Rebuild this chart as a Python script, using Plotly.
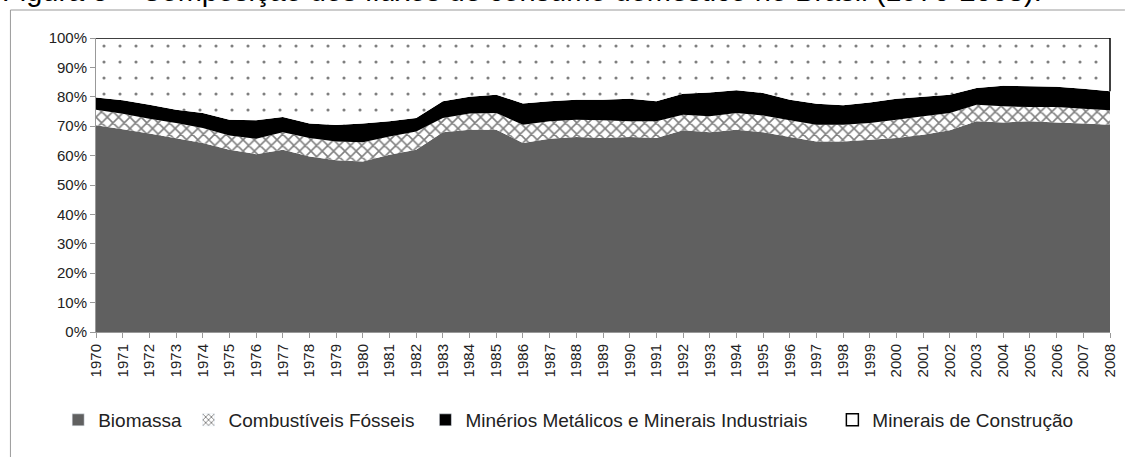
import plotly.graph_objects as go

years = [str(y) for y in range(1970, 2009)]

# cumulative boundaries (percent)
biomassa_top = [70.3, 69.0, 67.5, 65.9, 64.3, 62.0, 60.5, 62.0, 59.7, 58.4,
                58.0, 60.3, 62.0, 67.9, 68.8, 68.8, 64.3, 65.7, 66.3, 66.0,
                66.3, 66.0, 68.6, 67.9, 68.8, 67.9, 66.3, 64.8, 64.8, 65.4,
                66.0, 67.1, 68.6, 71.7, 71.3, 71.7, 71.3, 70.9, 70.5]
fosseis_top = [75.6, 74.2, 72.5, 71.1, 69.4, 66.8, 65.7, 67.9, 66.0, 64.8,
               64.5, 66.5, 68.2, 72.8, 74.3, 74.5, 70.5, 71.7, 72.2, 72.0,
               71.7, 71.7, 73.9, 73.4, 74.5, 73.6, 72.0, 70.5, 70.5, 71.1,
               72.2, 73.4, 74.5, 77.3, 76.8, 76.5, 76.5, 75.9, 75.4]
minerios_top = [79.8, 78.8, 77.3, 75.6, 74.5, 72.2, 72.0, 73.1, 70.9, 70.4,
                70.9, 71.7, 72.8, 78.5, 80.0, 80.7, 77.7, 78.5, 79.0, 79.0,
                79.3, 78.5, 81.0, 81.5, 82.2, 81.3, 79.0, 77.6, 77.1, 78.1,
                79.3, 80.0, 80.7, 83.0, 83.8, 83.6, 83.4, 82.7, 81.9]

biomassa = biomassa_top
fosseis = [round(f - b, 1) for f, b in zip(fosseis_top, biomassa_top)]
minerios = [round(m - f, 1) for m, f in zip(minerios_top, fosseis_top)]
construcao = [round(100 - m, 1) for m in minerios_top]

series_names = ["Biomassa", "Combustíveis Fósseis",
                "Minérios Metálicos e Minerais Industriais", "Minerais de Construção"]

W, H = 1130, 457
L, R, T, B = 96, 15, 38, 125
pw = W - L - R
ph = H - T - B


def px_x(x):
    return (x - L) / pw


def px_y(y):
    return (H - B - y) / ph


wave = dict(shape="x", fgcolor="black", bgcolor="white", size=8, solidity=0.35)
dots = dict(shape=".", fgcolor="black", bgcolor="white", size=16, solidity=0.03)

fig = go.Figure()
fig.add_trace(go.Scatter(
    x=years, y=biomassa, name=series_names[0], stackgroup="one", groupnorm="percent",
    mode="none", fillcolor="#606060", showlegend=False))
fig.add_trace(go.Scatter(
    x=years, y=fosseis, name=series_names[1], stackgroup="one",
    mode="none", fillcolor="white", fillpattern=wave, showlegend=False))
fig.add_trace(go.Scatter(
    x=years, y=minerios, name=series_names[2], stackgroup="one",
    mode="none", fillcolor="black", showlegend=False))
fig.add_trace(go.Scatter(
    x=years, y=construcao, name=series_names[3], stackgroup="one",
    mode="lines", line=dict(color="black", width=1.5), fillcolor="white",
    fillpattern=dots, showlegend=False))

# legend entries (square keys like the reference)
legend_markers = [
    dict(color="#606060"),
    dict(color="white", pattern=dict(shape="x", fgcolor="black", size=5, solidity=0.4)),
    dict(color="black"),
    dict(color="white", line=dict(color="black", width=1.5)),
]
legend_ids = ["legend", "legend2", "legend3", "legend4"]
for name, mk, lid in zip(series_names, legend_markers, legend_ids):
    fig.add_trace(go.Bar(x=[None], y=[None], name=name, marker=mk,
                         showlegend=True, legend=lid))

legend_left_px = [58, 189, 427, 836]
legend_font = dict(family="Liberation Sans, Arial", size=19, color="#222222")
legend_layouts = {}
for lid, lx in zip(legend_ids, legend_left_px):
    legend_layouts[lid] = dict(x=px_x(lx), xanchor="left", y=px_y(420), yanchor="middle",
                               font=legend_font, itemwidth=30, bgcolor="rgba(0,0,0,0)")

fig.update_layout(
    width=W, height=H,
    margin=dict(l=L, r=R, t=T, b=B),
    paper_bgcolor="white", plot_bgcolor="white",
    font=dict(family="Liberation Sans, Arial", size=15, color="#222222"),
    showlegend=True,
    xaxis=dict(type="category", range=[0, 38], showgrid=False,
               tickangle=-90, ticks="outside", ticklen=5, tickcolor="#999999",
               showline=True, linecolor="#999999", linewidth=1,
               tickfont=dict(size=15, color="#222222")),
    yaxis=dict(range=[0, 100], dtick=10, ticksuffix="%", showgrid=False,
               ticks="outside", ticklen=5, tickcolor="#999999",
               showline=True, linecolor="#999999", linewidth=1,
               tickfont=dict(size=15, color="#222222")),
    **legend_layouts,
)

# right edge outline of the top series
fig.add_shape(type="line", xref="paper", yref="y", x0=1, x1=1,
              y0=minerios_top[-1], y1=100, line=dict(color="black", width=1.5))

# figure frame lines
fig.add_shape(type="line", xref="paper", yref="paper", x0=px_x(10), x1=px_x(W),
              y0=px_y(10), y1=px_y(10), line=dict(color="#9a9a9a", width=1))
fig.add_shape(type="line", xref="paper", yref="paper", x0=px_x(10), x1=px_x(10),
              y0=px_y(10), y1=px_y(H), line=dict(color="#9a9a9a", width=1))

fig.add_annotation(
    text="Figura 5 – Composição dos fluxos de consumo doméstico no Brasil (1970-2008).",
    xref="paper", yref="paper", x=px_x(0), y=px_y(-9), xanchor="left", yanchor="middle",
    showarrow=False, font=dict(family="Liberation Sans, Arial", size=29, color="black"))

fig.write_html("out.html", config={"displayModeBar": False},
               post_script="document.body.style.margin='0';")
